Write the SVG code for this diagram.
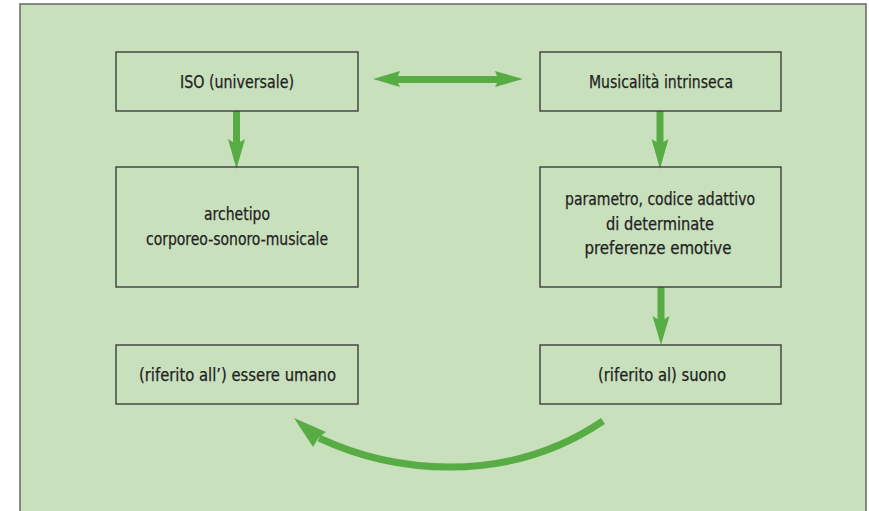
<svg xmlns="http://www.w3.org/2000/svg" width="869" height="511" viewBox="0 0 869 511">
<style>
.box{fill:none;stroke:#3c3c3c;stroke-width:1.4}
.t{font-family:"DejaVu Sans Condensed","DejaVu Sans",sans-serif;font-size:18px;fill:#222222;stroke:#222222;stroke-width:0.25;text-anchor:middle}
.arr{fill:#57ad43}
.curve{fill:none;stroke:#57ad43;stroke-width:7}
</style>
<rect width="869" height="511" fill="#ffffff"/>
<rect x="20" y="4" width="846" height="530" fill="#c9e0bd" stroke="#6e6e6e" stroke-width="1.6"/>
<g id="connectors">
<polygon class="arr" points="373,79 400,71 398,76 497,76 495,71 523,79 495,87 497,83 398,83 400,87"/>
<polygon class="arr" points="233,111 240,111 240,142 245,139 236.5,169 228,139 233,142"/>
<polygon class="arr" points="656.5,111 663.5,111 663.5,142 668.5,139 660,169 651.5,139 656.5,142"/>
<polygon class="arr" points="657.5,287 664.5,287 664.5,319 669.5,316 661,345 652.5,316 657.5,319"/>
<path class="curve" d="M603,421 C560,450 510,467 450,467 C400,467 355,455 319,438"/>
<polygon class="arr" points="294,418 326,432 319,437 313,447"/>
</g>
<g id="n1"><rect class="box" x="116" y="52" width="242" height="59"/><text class="t" x="237" y="88" textLength="114" lengthAdjust="spacingAndGlyphs">ISO (universale)</text></g>
<g id="n2"><rect class="box" x="540" y="52" width="241" height="59"/><text class="t" x="661" y="88" textLength="144" lengthAdjust="spacingAndGlyphs">Musicalità intrinseca</text></g>
<g id="n3"><rect class="box" x="116" y="167" width="242" height="120"/><text class="t" x="237" y="220" textLength="66" lengthAdjust="spacingAndGlyphs">archetipo</text><text class="t" x="237" y="245" textLength="182" lengthAdjust="spacingAndGlyphs">corporeo-sonoro-musicale</text></g>
<g id="n4"><rect class="box" x="540" y="167" width="241" height="120"/><text class="t" x="660" y="205" textLength="190" lengthAdjust="spacingAndGlyphs">parametro, codice adattivo</text><text class="t" x="660" y="230" textLength="108" lengthAdjust="spacingAndGlyphs">di determinate</text><text class="t" x="658" y="254" textLength="147" lengthAdjust="spacingAndGlyphs">preferenze emotive</text></g>
<g id="n5"><rect class="box" x="116" y="345" width="242" height="59"/><text class="t" x="237.5" y="381" textLength="197" lengthAdjust="spacingAndGlyphs">(riferito all’) essere umano</text></g>
<g id="n6"><rect class="box" x="540" y="345" width="241" height="59"/><text class="t" x="662" y="381" textLength="128" lengthAdjust="spacingAndGlyphs">(riferito al) suono</text></g>
</svg>
